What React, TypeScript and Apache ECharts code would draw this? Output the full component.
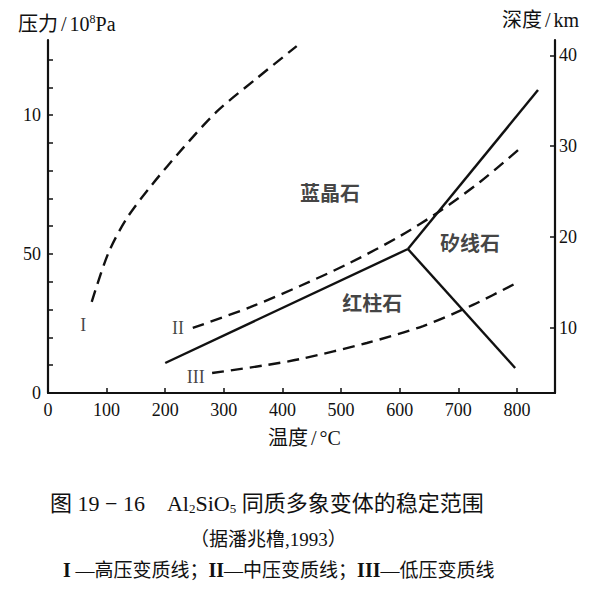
import React, { useEffect, useRef } from "react";
import * as echarts from "echarts";

// Temperature (°C) vs pressure (10^8 Pa) readings
const lineI: number[][] = [[74.6, 3.28], [102.9, 5.03], [134.3, 6.28], [176.9, 7.48], [230.3, 8.81], [287.8, 10.12], [356.1, 11.32], [424.3, 12.48]];
const lineII: number[][] = [[247, 2.34], [345, 3.09], [430, 3.85], [515, 4.68], [601, 5.65], [669, 6.55], [737, 7.59], [802, 8.74]];
const lineIII: number[][] = [[280, 0.72], [374, 1.01], [430, 1.22], [544, 1.8], [640, 2.41], [725, 3.17], [802, 3.99]];
const kyaniteAndalusite: number[][] = [[200, 1.08], [614, 5.18]];
const andalusiteSillimanite: number[][] = [[614, 5.18], [797, 0.9]];
const kyaniteSillimanite: number[][] = [[614, 5.18], [836, 10.9]];

const regionNames = ["蓝晶石", "矽线石", "红柱石"];
const regionPos: number[][] = [[481, 7.23], [720, 5.4], [553, 3.24]];
const romanNames = ["I", "II", "III"];
const romanPos: number[][] = [[60, 2.45], [222, 2.34], [252, 0.58]];

const pressureLabels: Record<number, string> = { 0: "0", 5: "50", 10: "10" };
const depthTicks = [10, 20, 30, 40];

const SERIF = "'Liberation Serif', 'Times New Roman', serif";
const FONT = "'Liberation Serif', 'Noto Sans CJK SC', serif";
const INK = "#111";

export default function App() {
  const ref = useRef<HTMLDivElement>(null);
  useEffect(() => {
    document.body.style.margin = "0";
    const chart = echarts.init(ref.current!, undefined, { renderer: "svg" });
    const dashed = { type: [12, 7] as any, width: 2.4, color: INK };
    const solid = { type: "solid" as any, width: 2.4, color: INK };
    const mkLine = (data: number[][], style: any, smooth: number | boolean) => ({
      type: "line",
      data,
      smooth,
      showSymbol: false,
      symbol: "none",
      lineStyle: style,
      silent: true,
    });
    chart.setOption({
      animation: false,
      backgroundColor: "#fff",
      textStyle: { fontFamily: FONT },
      grid: { left: 48, right: 37, top: 40, bottom: 203 },
      xAxis: {
        type: "value",
        min: 0,
        max: 865,
        interval: 100,
        axisLine: { show: true, onZero: false, lineStyle: { color: INK, width: 2.2 } },
        axisTick: { show: true, inside: true, length: 5, lineStyle: { color: INK, width: 1.5 } },
        axisLabel: { color: INK, fontSize: 18, fontFamily: SERIF, margin: 8, showMaxLabel: false },
        splitLine: { show: false },
      },
      yAxis: [
        {
          type: "value",
          min: 0,
          max: 12.7,
          interval: 1,
          axisLine: { show: true, onZero: false, lineStyle: { color: INK, width: 2.2 } },
          axisTick: { show: true, inside: true, length: 5, lineStyle: { color: INK, width: 1.5 } },
          axisLabel: {
            color: INK,
            fontSize: 18,
            fontFamily: SERIF,
            margin: 7,
            showMaxLabel: false,
            formatter: (v: number) => pressureLabels[Math.round(v)] ?? "",
          },
          splitLine: { show: false },
        },
        {
          type: "value",
          position: "right",
          min: 2.8,
          max: 41.7,
          axisLine: { show: true, onZero: false, lineStyle: { color: INK, width: 2.2 } },
          axisTick: { show: true, inside: true, length: 5, customValues: depthTicks, lineStyle: { color: INK, width: 1.5 } },
          axisLabel: { color: INK, fontSize: 18, fontFamily: SERIF, margin: 4, customValues: depthTicks },
          splitLine: { show: false },
        },
      ],
      series: [
        mkLine(lineI, dashed, 0.3),
        mkLine(lineII, dashed, 0.3),
        mkLine(lineIII, dashed, 0.3),
        mkLine(kyaniteAndalusite, solid, false),
        mkLine(andalusiteSillimanite, solid, false),
        mkLine(kyaniteSillimanite, solid, false),
        {
          type: "scatter",
          symbolSize: 0,
          silent: true,
          data: regionPos.map((p, i) => ({ value: p, name: regionNames[i] })),
          label: {
            show: true,
            position: "inside",
            formatter: (p: any) => p.name,
            color: INK,
            fontSize: 20,
            fontWeight: "bold",
            fontFamily: "'Noto Sans CJK SC', sans-serif",
          },
        },
        {
          type: "scatter",
          symbolSize: 0,
          silent: true,
          data: romanPos.map((p, i) => ({ value: p, name: romanNames[i] })),
          label: {
            show: true,
            position: "inside",
            formatter: (p: any) => p.name,
            color: INK,
            fontSize: 18,
            fontFamily: SERIF,
          },
        },
      ],
      graphic: [
        {
          type: "text",
          left: 18,
          top: 13,
          style: {
            text: "压力{s|/}10{sup|8}Pa",
            fill: INK,
            font: `20px ${FONT}`,
            rich: {
              s: { fontSize: 20, fontFamily: SERIF, padding: [0, 3, 0, 3] },
              sup: { fontSize: 12, fontFamily: SERIF, padding: [0, 0, 9, 0] },
            },
          },
        },
        {
          type: "text",
          left: 502,
          top: 10,
          style: {
            text: "深度{s|/}km",
            fill: INK,
            font: `20px ${FONT}`,
            rich: { s: { fontSize: 20, fontFamily: SERIF, padding: [0, 3, 0, 3] } },
          },
        },
        {
          type: "text",
          left: 268,
          top: 428,
          style: {
            text: "温度{s|/}°C",
            fill: INK,
            font: `20px ${FONT}`,
            rich: { s: { fontSize: 20, fontFamily: SERIF, padding: [0, 3, 0, 3] } },
          },
        },
        {
          type: "text",
          left: 50,
          top: 492,
          style: {
            text: "图 19 − 16    Al{sub|2}SiO{sub|5} 同质多象变体的稳定范围",
            fill: INK,
            font: `22px ${FONT}`,
            rich: { sub: { fontSize: 13, padding: [10, 0, 0, 0], fontFamily: SERIF } },
          },
        },
        {
          type: "text",
          left: 190,
          top: 530,
          style: { text: "（据潘兆橹,1993）", fill: INK, font: `19px ${FONT}` },
        },
        {
          type: "text",
          left: 63,
          top: 560,
          style: {
            text: "{r|I} —高压变质线；{r|II}—中压变质线；{r|III}—低压变质线",
            fill: INK,
            font: `19px ${FONT}`,
            rich: { r: { fontSize: 20, fontFamily: SERIF, fontWeight: "bold" } },
          },
        },
      ],
    });
    return () => chart.dispose();
  }, []);
  return <div ref={ref} style={{ width: 592, height: 596 }} />;
}
